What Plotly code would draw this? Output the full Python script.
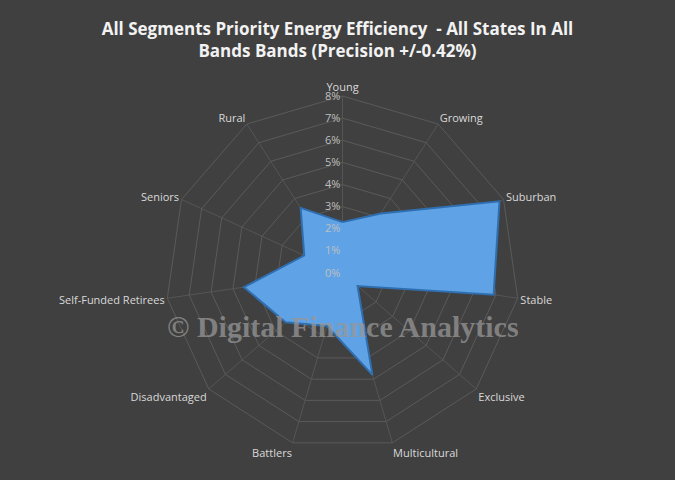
import plotly.graph_objects as go

segments = ['Young', 'Growing', 'Suburban', 'Stable', 'Exclusive', 'Multicultural',
            'Battlers', 'Disadvantaged', 'Self-Funded Retirees', 'Seniors', 'Rural']
share = [2.3, 3.2, 7.8, 6.9, 0.9, 4.8, 2.5, 3.4, 4.5, 1.9, 3.5]
tick_vals = [0, 1, 2, 3, 4, 5, 6, 7, 8]
tick_text = [f'{v}%' for v in tick_vals]

fig = go.Figure()
fig.add_trace(go.Scatterpolar(
    r=share + share[:1], theta=segments + segments[:1],
    mode='lines', fill='toself',
    fillcolor='#5fa3e6', line=dict(color='#2f6fb0', width=2),
    showlegend=False
))

fig.update_layout(
    width=675, height=480,
    paper_bgcolor='#404040', plot_bgcolor='#404040',
    margin=dict(l=70, r=60, t=96, b=30),
    title=dict(text='<b>All Segments Priority Energy Efficiency  - All States In All<br>Bands Bands (Precision +/-0.42%)</b>',
               x=0.5, y=0.927, xanchor='center', yanchor='middle',
               font=dict(family='Open Sans', size=17, color='#f2f2f2')),
    font=dict(family='Open Sans', size=11, color='#d9d9d9'),
    polar=dict(
        bgcolor='#404040',
        gridshape='linear',
        angularaxis=dict(direction='clockwise', rotation=90,
                         gridcolor='#555555', linecolor='#5a5a5a',
                         tickfont=dict(size=11, color='#d9d9d9')),
        radialaxis=dict(range=[0, 8], tickvals=tick_vals, ticktext=tick_text,
                        angle=90, tickangle=90, side='counterclockwise',
                        gridcolor='#5a5a5a', showline=False, ticks='',
                        tickfont=dict(size=11, color='#bfbfbf'))
    ),
    annotations=[dict(text='<b>© Digital Finance Analytics</b>', x=0.5, y=0.35,
                      xref='paper', yref='paper', showarrow=False,
                      font=dict(family='Liberation Serif', size=30, color='rgba(150,150,150,0.75)'))]
)

fig.write_html('out.html', config={'displayModeBar': False},
               post_script="document.body.style.margin='0';")
